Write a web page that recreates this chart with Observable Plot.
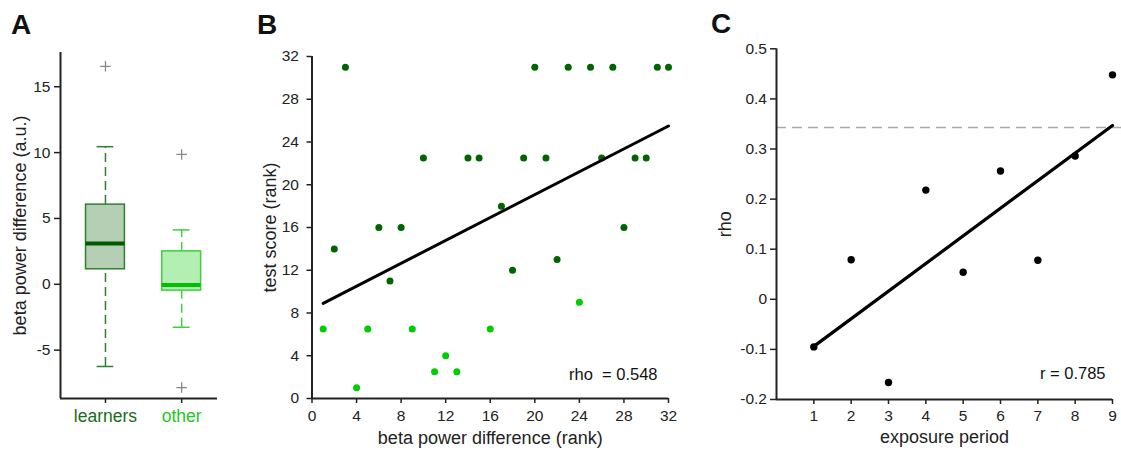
<!DOCTYPE html>
<html><head><meta charset="utf-8">
<script src="https://cdn.jsdelivr.net/npm/d3@7"></script>
<script src="https://cdn.jsdelivr.net/npm/@observablehq/plot@0.6"></script>
<style>
body{margin:0;background:#fff;}
#wrap{position:relative;width:1121px;height:450px;font-family:"Liberation Sans",Arial,sans-serif;overflow:hidden;}
.panel{position:absolute;top:0;}
.letter{position:absolute;font-weight:bold;font-size:28px;line-height:28px;color:#111;}
</style></head><body>
<div id="wrap"></div>
<script>
// ---------- Panel A: box plot data ----------
const groups = ["learners", "other"];
const groupPos = [1, 2];
const q1 = [1.14, -0.48];
const medians = [3.1, -0.05];
const q3 = [6.05, 2.5];
const whiskLo = [-6.24, -3.26];
const whiskHi = [10.45, 4.13];
const outlierGroup = [1, 2, 2];
const outlierValue = [16.55, 9.86, -7.84];
const ticksA = [-5, 0, 5, 10, 15];

// ---------- Panel B: rank scatter ----------
const learnerX = [3, 20, 23, 25, 27, 31, 32, 10, 14, 15, 19, 21, 26, 29, 30, 17, 6, 8, 28, 2, 7, 18, 22];
const learnerY = [31, 31, 31, 31, 31, 31, 31, 22.5, 22.5, 22.5, 22.5, 22.5, 22.5, 22.5, 22.5, 18, 16, 16, 16, 14, 11, 12, 13];
const otherX = [1, 5, 9, 16, 4, 11, 13, 12, 24];
const otherY = [6.5, 6.5, 6.5, 6.5, 1, 2.5, 2.5, 4, 9];
const fitBx = [1, 32];
const fitBy = [8.9, 25.5];
const ticksB = [0, 4, 8, 12, 16, 20, 24, 28, 32];
const rhoLabel = "rho  = 0.548";

// ---------- Panel C: rho by exposure period ----------
const period = [1, 2, 3, 4, 5, 6, 7, 8, 9];
const rho = [-0.095, 0.079, -0.166, 0.218, 0.054, 0.256, 0.078, 0.286, 0.448];
const fitCx = [1, 9];
const fitCy = [-0.094, 0.347];
const threshold = [0.343];
const ticksCy = [-0.2, -0.1, 0, 0.1, 0.2, 0.3, 0.4, 0.5];
const ticksCx = [1, 2, 3, 4, 5, 6, 7, 8, 9];
const rLabel = "r = 0.785";

// ---------- styles ----------
const FONT = "Liberation Sans, Arial, sans-serif";
const INK = "#222";
const TICK_FS = 15.5, LABEL_FS = 18;
const groupStyle = [
  {stroke: "#2f7f2f", fill: "#b5cfb5", median: "#005a00", label: "#1a6b1a"},
  {stroke: "#3fd03f", fill: "#b3efb3", median: "#00c000", label: "#22c822"}
];
const darkDot = "#006400", lightDot = "#00cc00";
const fmt = d => String(d);
const baseStyle = {fontFamily: FONT, fontSize: TICK_FS + "px", color: INK, background: "transparent", overflow: "visible"};

const wrap = document.getElementById("wrap");
function place(svg, left) {
  svg.classList.add("panel");
  svg.style.left = left + "px";
  wrap.appendChild(svg);
}
function letter(t, left, top) {
  const d = document.createElement("div");
  d.className = "letter"; d.textContent = t;
  d.style.left = left + "px"; d.style.top = top + "px";
  wrap.appendChild(d);
}
// tick marks via axis, tick labels via text marks (so font size is controlled)
function yTicks(ticks, size, gap) {
  return [
    Plot.axisY(ticks, {label: null, tickSize: size, tickFormat: () => "", stroke: INK, strokeWidth: 1.5}),
    Plot.text(ticks, {y: d => d, text: fmt, frameAnchor: "left", textAnchor: "end", lineAnchor: "middle", dx: -gap, fontSize: TICK_FS, fill: INK})
  ];
}
function xTicks(ticks, size, off) {
  return [
    Plot.axisX(ticks, {label: null, tickSize: size, tickFormat: () => "", stroke: INK, strokeWidth: 1.5}),
    Plot.text(ticks, {x: d => d, text: fmt, frameAnchor: "bottom", textAnchor: "middle", lineAnchor: "middle", dy: off, fontSize: TICK_FS, fill: INK})
  ];
}

// ---------- Panel A ----------
const boxes = groups.map((g, i) => ({g, pos: groupPos[i], q1: q1[i], med: medians[i], q3: q3[i], lo: whiskLo[i], hi: whiskHi[i], st: groupStyle[i]}));
const outliers = outlierValue.map((v, i) => ({pos: outlierGroup[i], v}));
const hw = 0.255, cw = 0.11;
const boxMarks = boxes.flatMap(b => [
  Plot.ruleX([b], {x: "pos", y1: "q3", y2: "hi", stroke: b.st.stroke, strokeWidth: 1.5, strokeDasharray: "9,5"}),
  Plot.ruleX([b], {x: "pos", y1: "lo", y2: "q1", stroke: b.st.stroke, strokeWidth: 1.5, strokeDasharray: "9,5"}),
  Plot.ruleY([b], {y: "hi", x1: d => d.pos - cw, x2: d => d.pos + cw, stroke: b.st.stroke, strokeWidth: 1.5}),
  Plot.ruleY([b], {y: "lo", x1: d => d.pos - cw, x2: d => d.pos + cw, stroke: b.st.stroke, strokeWidth: 1.5}),
  Plot.rect([b], {x1: d => d.pos - hw, x2: d => d.pos + hw, y1: "q1", y2: "q3", fill: b.st.fill, stroke: b.st.stroke, strokeWidth: 1.5}),
  Plot.ruleY([b], {y: "med", x1: d => d.pos - hw, x2: d => d.pos + hw, stroke: b.st.median, strokeWidth: 4}),
  Plot.text([b], {x: "pos", text: "g", frameAnchor: "bottom", textAnchor: "middle", lineAnchor: "middle", dy: 18, fill: b.st.label, fontSize: 17.5})
]);
const plotA = Plot.plot({
  width: 230, height: 450, marginLeft: 60, marginRight: 13, marginTop: 52, marginBottom: 52,
  x: {domain: [0.41, 2.47], axis: null},
  y: {domain: [-8.67, 17.6], axis: null},
  style: baseStyle,
  marks: [
    ...boxMarks,
    Plot.dot(outliers, {x: "pos", y: "v", symbol: "plus", r: 3.5, stroke: "#888", strokeWidth: 1.3}),
    ...yTicks(ticksA, 6, 10),
    Plot.axisX(groupPos, {label: null, tickSize: 5, tickFormat: () => "", stroke: INK, strokeWidth: 1.5}),
    Plot.ruleX([0.41], {stroke: INK, strokeWidth: 2}),
    Plot.ruleY([-8.67], {stroke: INK, strokeWidth: 2}),
    Plot.text(["beta power difference (a.u.)"], {text: d => d, frameAnchor: "left", rotate: -90, textAnchor: "middle", lineAnchor: "middle", dx: -40, fontSize: LABEL_FS, fill: INK})
  ]
});
place(plotA, 0);

// ---------- Panel B ----------
const learners = learnerX.map((x, i) => ({x, y: learnerY[i]}));
const others = otherX.map((x, i) => ({x, y: otherY[i]}));
const fitB = fitBx.map((x, i) => ({x, y: fitBy[i]}));
const plotB = Plot.plot({
  width: 460, height: 450, marginLeft: 81.5, marginRight: 22, marginTop: 56, marginBottom: 52,
  x: {domain: [0, 32], axis: null},
  y: {domain: [0, 32], axis: null},
  style: baseStyle,
  marks: [
    Plot.dot(learners, {x: "x", y: "y", r: 3.5, fill: darkDot}),
    Plot.dot(others, {x: "x", y: "y", r: 3.5, fill: lightDot}),
    Plot.line(fitB, {x: "x", y: "y", stroke: "#000", strokeWidth: 3}),
    ...yTicks(ticksB, 5, 13),
    ...xTicks(ticksB, 5, 18),
    Plot.ruleX([0], {stroke: INK, strokeWidth: 2}),
    Plot.ruleY([0], {stroke: INK, strokeWidth: 2}),
    Plot.text([rhoLabel], {text: d => d, frameAnchor: "bottom-right", textAnchor: "end", lineAnchor: "middle", dx: -11, dy: -24, fontSize: 16.5, fill: "#111"}),
    Plot.text(["test score (rank)"], {text: d => d, frameAnchor: "left", rotate: -90, textAnchor: "middle", lineAnchor: "middle", dx: -42, fontSize: LABEL_FS, fill: INK}),
    Plot.text(["beta power difference (rank)"], {text: d => d, frameAnchor: "bottom", textAnchor: "middle", lineAnchor: "middle", dy: 40, fontSize: LABEL_FS, fill: INK})
  ]
});
place(plotB, 230);

// ---------- Panel C ----------
const pts = period.map((p, i) => ({p, r: rho[i]}));
const fitC = fitCx.map((x, i) => ({x, y: fitCy[i]}));
const plotC = Plot.plot({
  width: 431, height: 450, marginLeft: 86, marginRight: 0, marginTop: 48.3, marginBottom: 51,
  x: {domain: [0, 9], range: [86, 422], axis: null},
  y: {domain: [-0.2, 0.5], axis: null},
  style: baseStyle,
  marks: [
    Plot.ruleY(threshold, {stroke: "#aaa", strokeWidth: 1.5, strokeDasharray: "10,6"}),
    Plot.line(fitC, {x: "x", y: "y", stroke: "#000", strokeWidth: 3.2}),
    Plot.dot(pts, {x: "p", y: "r", r: 3.7, fill: "#000"}),
    ...yTicks(ticksCy, 6, 9.5),
    Plot.axisX(ticksCx, {label: null, tickSize: 5, tickFormat: () => "", stroke: INK, strokeWidth: 1.5}),
    Plot.text(ticksCx, {x: d => d, y: -0.2, text: fmt, textAnchor: "middle", lineAnchor: "middle", dy: 16.5, fontSize: TICK_FS, fill: INK}),
    Plot.ruleX([0], {stroke: INK, strokeWidth: 2}),
    Plot.ruleY([-0.2], {x1: 0, x2: 9, stroke: INK, strokeWidth: 2}),
    Plot.text([rLabel], {x: 9, y: -0.2, text: d => d, textAnchor: "end", lineAnchor: "middle", dx: -7, dy: -26, fontSize: 16.5, fill: "#111"}),
    Plot.text(["rho"], {text: d => d, frameAnchor: "left", rotate: -90, textAnchor: "middle", lineAnchor: "middle", dx: -51, fontSize: LABEL_FS, fill: INK}),
    Plot.text(["exposure period"], {x: 4.5, y: -0.2, text: d => d, textAnchor: "middle", lineAnchor: "middle", dy: 38, fontSize: LABEL_FS, fill: INK})
  ]
});
place(plotC, 690);

letter("A", 11, 11);
letter("B", 257, 11);
letter("C", 711, 10);
</script>
</body></html>
